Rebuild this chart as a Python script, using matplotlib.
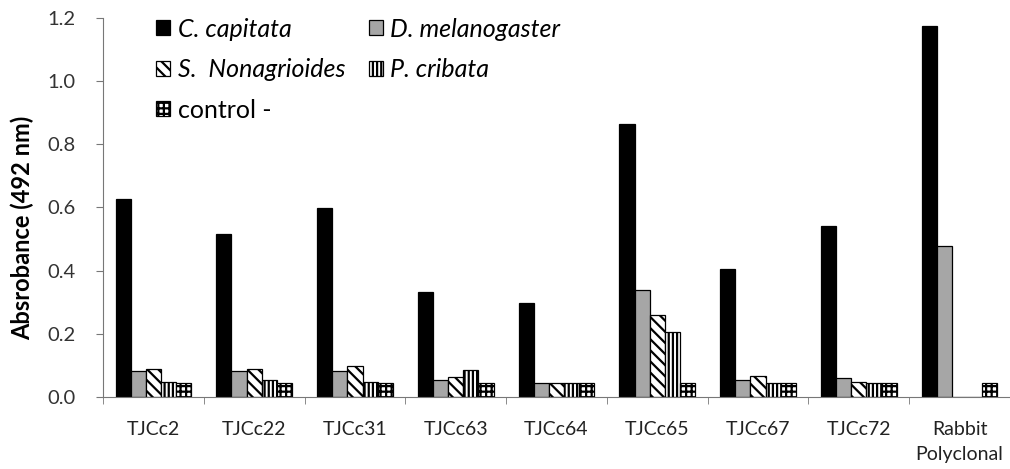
import numpy as np
import matplotlib
matplotlib.use('Agg')
import matplotlib.pyplot as plt

# categories and absorbance values
categories = ['TJCc2', 'TJCc22', 'TJCc31', 'TJCc63', 'TJCc64',
              'TJCc65', 'TJCc67', 'TJCc72', 'Rabbit\nPolyclonal']
capitata = [0.627, 0.516, 0.597, 0.332, 0.297, 0.864, 0.405, 0.543, 1.176]
melanogaster = [0.082, 0.082, 0.082, 0.055, 0.045, 0.339, 0.055, 0.060, 0.477]
nonagrioides = [0.088, 0.089, 0.097, 0.062, 0.045, 0.260, 0.067, 0.048, 0.0]
cribata = [0.047, 0.054, 0.047, 0.085, 0.045, 0.206, 0.043, 0.043, 0.0]
control = [0.045, 0.045, 0.045, 0.045, 0.045, 0.045, 0.045, 0.045, 0.045]

series = [capitata, melanogaster, nonagrioides, cribata, control]
labels = ['C. capitata', 'D. melanogaster', 'S.  Nonagrioides', 'P. cribata', 'control -']
faces = ['black', '#a6a6a6', 'white', 'white', 'white']
hatches = [None, None, '\\\\\\', '||||', '+++']

plt.rcParams['font.family'] = ['Lato', 'DejaVu Sans']
plt.rcParams['hatch.linewidth'] = 1.6

fig = plt.figure(figsize=(10.1, 4.69), dpi=100)
ax = fig.add_axes([103 / 1010, 72 / 469, 907 / 1010, 379 / 469])

x = np.arange(len(categories))
w = 0.15
bars = []
for i, vals in enumerate(series):
    b = ax.bar(x + (i - 2) * w, vals, w, color=faces[i], edgecolor='black',
               linewidth=0.9, hatch=hatches[i], label=labels[i])
    bars.append(b)

ax.set_xlim(-0.5, len(categories) - 0.5)
ax.set_ylim(0, 1.2)
ax.set_yticks(np.arange(0, 1.21, 0.2))
ax.set_yticklabels(['%.1f' % v for v in np.arange(0, 1.21, 0.2)])
ax.set_xticks(x)
ax.set_xticklabels(categories, linespacing=1.6)
ax.tick_params(axis='x', length=0, pad=17, labelsize=14, colors='#222222')
ax.set_xticks(np.arange(-0.5, len(categories), 1), minor=True)
ax.tick_params(axis='x', which='minor', length=5, color='#777777')
ax.tick_params(axis='y', length=5, pad=15, color='#777777', labelsize=14.5, labelcolor='#333333')

for s in ['top', 'right']:
    ax.spines[s].set_visible(False)
for s in ['left', 'bottom']:
    ax.spines[s].set_color('#777777')

ax.set_ylabel('Absrobance (492 nm)', fontsize=17, fontweight='bold')
ax.yaxis.set_label_coords(-0.076, 0.445)

# legend filled column-wise, so reorder to match the row layout
order = [0, 2, 4, 1, 3]
leg = ax.legend([bars[k] for k in order], [labels[k] for k in order],
                ncol=2, frameon=False, loc='upper left', bbox_to_anchor=(0.034, 1.06),
                fontsize=18, handlelength=0.55, handleheight=0.55, handletextpad=0.3,
                labelspacing=0.7, columnspacing=0.95)
for t in leg.get_texts():
    if t.get_text() != 'control -':
        t.set_fontstyle('italic')

fig.savefig('out.png', dpi=100)
